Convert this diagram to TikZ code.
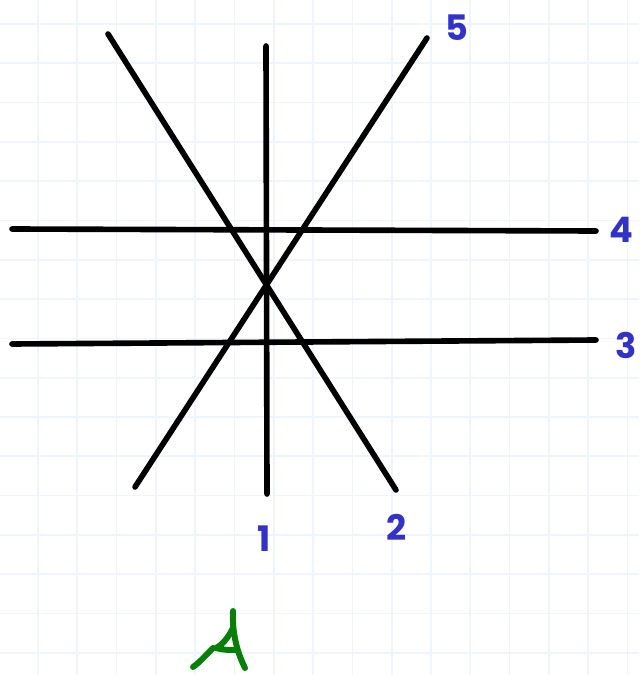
\documentclass[tikz,border=0pt]{standalone}
\usepackage{fontspec}
\newfontfamily\handfont{Poppins}
\usepackage{tikz}
\usetikzlibrary{positioning}
\definecolor{gridblue}{RGB}{238,245,254}
\definecolor{numblue}{RGB}{50,50,200}
\definecolor{signgreen}{RGB}{8,128,8}
\tikzset{
    lineblack/.style={line width=3.2pt, black, line cap=round},
    signstroke/.style={signgreen, line width=3.4pt, line cap=round, line join=round},
    numlabel/.style={font=\handfont\fontsize{20}{20}\selectfont\bfseries, numblue, inner sep=0pt}
}

\begin{document}
\begin{tikzpicture}[x=0.02cm, y=-0.02cm]
% paper
\fill[white] (0,0) rectangle (639,675);
\useasboundingbox (0,0) rectangle (639,675);
\foreach \gx in {0,...,15}{
    \draw[gridblue, line width=1pt] (38+\gx*39.3,0) -- (38+\gx*39.3,675);
}
\foreach \gy in {0,...,16}{
    \draw[gridblue, line width=1pt] (0,24+\gy*39.3) -- (639,24+\gy*39.3);
}

% line ends
\coordinate (one-a) at (266,46);
\coordinate (one-b) at (267,494);
\coordinate (two-a) at (108,34);
\coordinate (two-b) at (396,490);
\coordinate (three-a) at (12,344);
\coordinate (three-b) at (596,340);
\coordinate (four-a) at (12,229);
\coordinate (four-b) at (596,231);
\coordinate (five-a) at (135,487);
\coordinate (five-b) at (427,38);

\draw[lineblack] (one-a) -- (one-b);
\draw[lineblack] (two-a) -- (two-b);
\draw[lineblack] (three-a) -- (three-b);
\draw[lineblack] (four-a) -- (four-b);
\draw[lineblack] (five-a) -- (five-b);

% numbers
\node[numlabel] (lab1) at (264,539) {1};
\node[numlabel] (lab2) at (397,527) {2};
\node[numlabel] (lab3) at (626,345) {3};
\node[numlabel] (lab4) at (621,230) {4};
\node[numlabel] (lab5) at (457,28) {5};

% signature
\draw[signstroke] (233,611) .. controls (232,630) and (236,650) .. (245,668);
\draw[signstroke] (233,628) .. controls (228,638) and (222,645) .. (216,648)
    .. controls (222,650) and (230,650) .. (236,650);
\draw[signstroke] (213,648) .. controls (206,655) and (200,662) .. (193,667);
\end{tikzpicture}
\end{document}
